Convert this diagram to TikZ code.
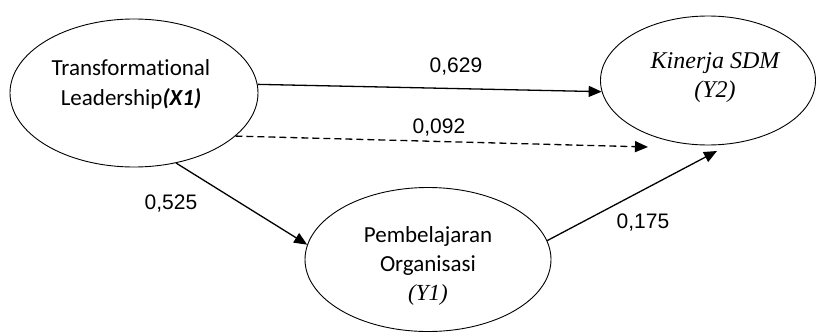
\documentclass[tikz,border=0pt]{standalone}
\usepackage{fontspec}
\setmainfont{Carlito}[Ligatures=NoCommon]
\newfontfamily\numf{Liberation Sans}
\newfontfamily\serf{Liberation Serif}
\usetikzlibrary{shapes.geometric,arrows.meta}
\begin{document}
\begin{tikzpicture}[x=1pt,y=-1pt,
 latent/.style={ellipse,draw,line width=0.9pt,inner sep=0pt},
 pathar/.style={line width=1.3pt,-{Triangle[length=13pt,width=11pt]}},
 coef/.style={font=\numf\fontsize{21}{25}\selectfont,inner sep=0pt},
 lbl/.style={align=center,inner sep=0pt,anchor=base,font=\fontsize{23}{29}\selectfont}]
\useasboundingbox (0,0) rectangle (817,332);
\node[latent,minimum width=248pt,minimum height=148pt] (x1) at (134,93) {};
\node[latent,minimum width=215pt,minimum height=129pt] (y2) at (708,80.5) {};
\node[latent,minimum width=246pt,minimum height=144pt] (y1) at (428,259.5) {};
\node[lbl,font=\fontsize{23}{30}\selectfont] (tx1) at (131,105) {Transformational\\Leadership{\bfseries\itshape(X1)}};
\node[lbl,font=\serf\itshape\fontsize{24}{29}\selectfont] (ty2) at (715,97) {Kinerja SDM\\(Y2)};
\node[lbl] (ty1) at (428,300) {Pembelajaran\\Organisasi\\{\serf\itshape(Y1)}};
\coordinate (dEnd) at (648,147);
\coordinate (pEnd) at (717,151);
\draw[pathar] (x1.4) -- (y2.186);
\draw[pathar,dash pattern=on 7pt off 4pt] (x1.-23) -- (dEnd);
\draw[pathar] (x1.-59) -- (y1.173);
\draw[pathar] (y1.9) -- (pEnd);
\node[coef] (c1) at (456,67) {0,629};
\node[coef] (c2) at (439,128) {0,092};
\node[coef] (c3) at (171,204) {0,525};
\node[coef] (c4) at (643,223) {0,175};
\end{tikzpicture}
\end{document}
